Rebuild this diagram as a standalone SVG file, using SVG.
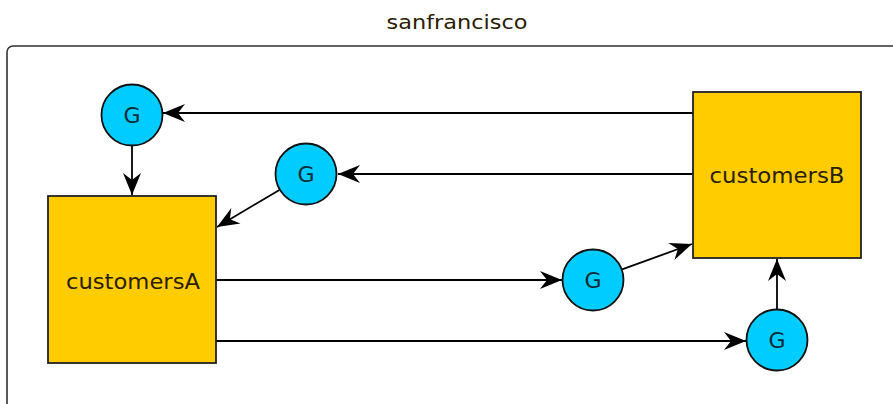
<svg xmlns="http://www.w3.org/2000/svg" width="893" height="404" viewBox="0 0 893 404">
<style>
.lbl{font-family:"DejaVu Sans","Liberation Sans",sans-serif;fill:#2a2000;text-anchor:middle}
.box{fill:#FFCC00;stroke:#222;stroke-width:1.8}
.gc{fill:#00CCFF;stroke:#111;stroke-width:1.8}
.gt{font-family:"DejaVu Sans","Liberation Sans",sans-serif;font-size:22px;fill:#0b2b38;text-anchor:middle}
.edge{fill:none;stroke:#000;stroke-width:1.8;marker-end:url(#arr)}
</style>
<defs>
<marker id="arr" markerUnits="userSpaceOnUse" markerWidth="26" markerHeight="22" viewBox="-24 -11 26 22" refX="0" refY="0" orient="auto">
<path d="M0,0 L-22,-9 L-15,0 L-22,9 Z" fill="#000"/>
</marker>
</defs>
<rect width="893" height="404" fill="#fff"/>
<text x="457" y="29" class="lbl" font-size="20" textLength="141" lengthAdjust="spacingAndGlyphs" fill="#222">sanfrancisco</text>
<rect id="container" x="7" y="46" width="900" height="400" rx="6" fill="none" stroke="#333" stroke-width="1.6"/>
<g id="connectors">
<path class="edge" d="M693,113 L163,113"/>
<path class="edge" d="M693,174 L338,174"/>
<path class="edge" d="M132,146 L132,195"/>
<path class="edge" d="M279.4,189.9 L217,227"/>
<path class="edge" d="M216,280 L562,280"/>
<path class="edge" d="M622.1,269.4 L692,244"/>
<path class="edge" d="M216,341 L746,341"/>
<path class="edge" d="M777,309 L777,259"/>
</g>
<g id="customersA">
<rect class="box" x="48" y="196" width="168" height="167"/>
<text class="lbl" x="133" y="289" font-size="21" textLength="134" lengthAdjust="spacingAndGlyphs">customersA</text>
</g>
<g id="customersB">
<rect class="box" x="693" y="92" width="168" height="166"/>
<text class="lbl" x="777" y="183" font-size="21" textLength="135" lengthAdjust="spacingAndGlyphs">customersB</text>
</g>
<g id="g1">
<circle class="gc" cx="132" cy="115" r="30.5"/>
<text class="gt" x="132" y="123">G</text>
</g>
<g id="g2">
<circle class="gc" cx="306" cy="174" r="30.5"/>
<text class="gt" x="306" y="182">G</text>
</g>
<g id="g3">
<circle class="gc" cx="593" cy="280" r="30.5"/>
<text class="gt" x="593" y="288">G</text>
</g>
<g id="g4">
<circle class="gc" cx="777" cy="340" r="30.5"/>
<text class="gt" x="777" y="348">G</text>
</g>
</svg>
